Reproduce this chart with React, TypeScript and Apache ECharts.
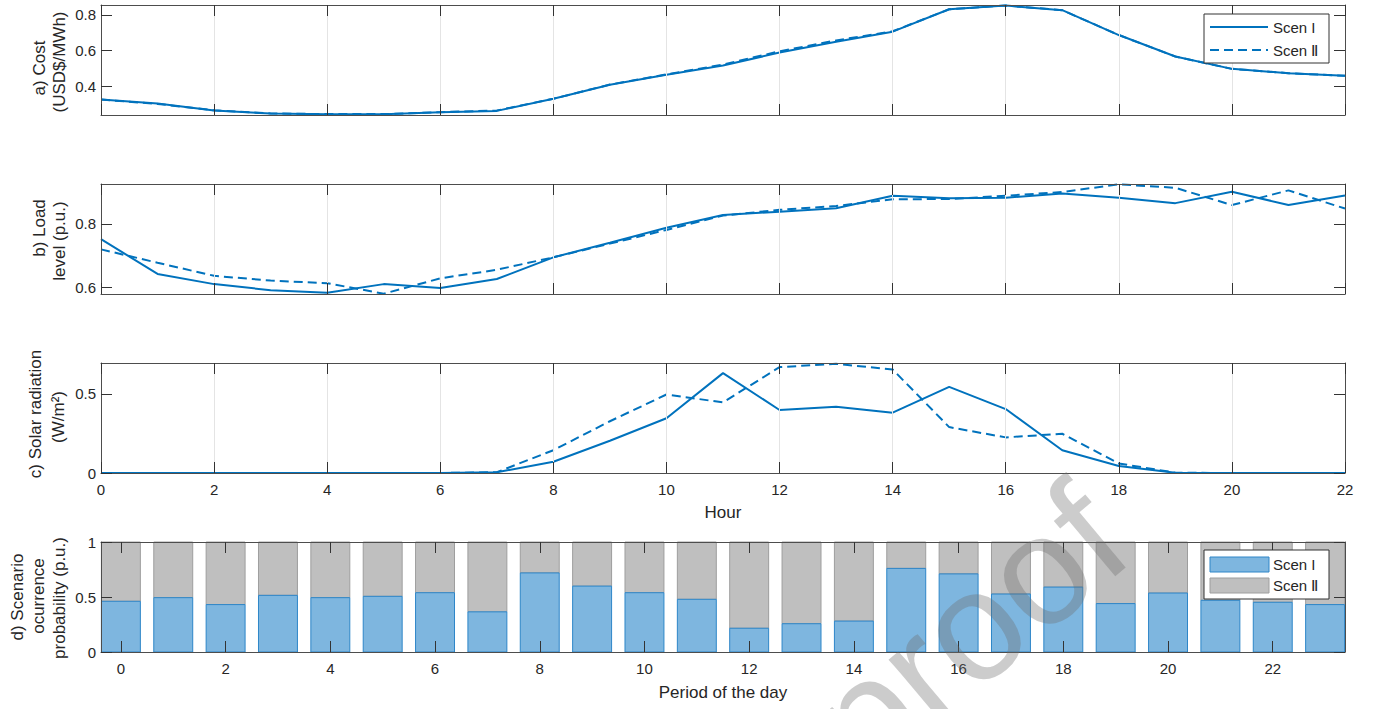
import React, { useEffect, useRef } from "react";
import * as echarts from "echarts";

// ---------- data ----------
const hours = [0, 1, 2, 3, 4, 5, 6, 7, 8, 9, 10, 11, 12, 13, 14, 15, 16, 17, 18, 19, 20, 21, 22];
const costScenI = [0.326, 0.304, 0.265, 0.248, 0.244, 0.244, 0.256, 0.263, 0.331, 0.409, 0.465, 0.517, 0.589, 0.65, 0.706, 0.831, 0.852, 0.826, 0.687, 0.567, 0.498, 0.474, 0.459];
const costScenII = [0.326, 0.302, 0.266, 0.249, 0.245, 0.245, 0.256, 0.265, 0.331, 0.41, 0.467, 0.522, 0.596, 0.657, 0.708, 0.831, 0.852, 0.826, 0.687, 0.567, 0.498, 0.474, 0.459];
const loadScenI = [0.752, 0.643, 0.611, 0.592, 0.584, 0.611, 0.599, 0.627, 0.695, 0.741, 0.788, 0.828, 0.838, 0.849, 0.888, 0.88, 0.882, 0.895, 0.882, 0.865, 0.901, 0.859, 0.889];
const loadScenII = [0.72, 0.678, 0.637, 0.622, 0.614, 0.581, 0.629, 0.656, 0.695, 0.738, 0.781, 0.826, 0.844, 0.856, 0.877, 0.878, 0.888, 0.9, 0.924, 0.913, 0.859, 0.905, 0.848];
const solarScenI = [0, 0, 0, 0, 0, 0, 0, 0.005, 0.071, 0.204, 0.346, 0.631, 0.398, 0.419, 0.381, 0.544, 0.404, 0.144, 0.044, 0.002, 0, 0, 0];
const solarScenII = [0, 0, 0, 0, 0, 0, 0, 0.005, 0.144, 0.327, 0.496, 0.446, 0.669, 0.69, 0.654, 0.29, 0.225, 0.248, 0.06, 0.002, 0, 0, 0];
const periods = [0, 1, 2, 3, 4, 5, 6, 7, 8, 9, 10, 11, 12, 13, 14, 15, 16, 17, 18, 19, 20, 21, 22, 23];
const probScenI = [0.461, 0.494, 0.431, 0.515, 0.494, 0.506, 0.539, 0.365, 0.719, 0.599, 0.539, 0.479, 0.216, 0.257, 0.281, 0.76, 0.71, 0.527, 0.59, 0.44, 0.536, 0.47, 0.452, 0.431];
const probScenII = [0.539, 0.506, 0.569, 0.485, 0.506, 0.494, 0.461, 0.635, 0.281, 0.401, 0.461, 0.521, 0.784, 0.743, 0.719, 0.24, 0.29, 0.473, 0.41, 0.56, 0.464, 0.53, 0.548, 0.569];

const hourTicks = [0, 2, 4, 6, 8, 10, 12, 14, 16, 18, 20, 22];
const costTicks = [0.4, 0.6, 0.8];
const loadTicks = [0.6, 0.8];
const solarTicks = [0, 0.5];
const probTicks = [0, 0.5, 1];

const seriesNames = ["Scen I", "Scen Ⅱ"];

// ---------- styles ----------
const FONT = "'Liberation Sans', Arial, Helvetica, sans-serif";
const TXT = "#262626";
const AX = "#4d4d4d";
const TK = "#333333";
const GRIDC = "#e4e4e4";
const BLUE = "#0072BD";
const BAR_BLUE = "#7EB6DF";
const BAR_BLUE_EDGE = "#2E86C8";
const BAR_GRAY = "#BFBFBF";
const BAR_GRAY_EDGE = "#9E9E9E";
const BAR_HALF = 0.372;

const GL = 101;
const GW = 1244;
const GH = 110;
const TOPS = [5, 184, 363, 542];

export default function App() {
  const ref = useRef<HTMLDivElement>(null);

  useEffect(() => {
    document.body.style.margin = "0";
    const chart = echarts.init(ref.current!, null, { renderer: "svg" });

    const grids = TOPS.map((t) => ({ left: GL, top: t, width: GW, height: GH, show: false }));

    const lineAxisBase = (gi: number, pos: "bottom" | "top", labels: boolean) => ({
      type: "value",
      gridIndex: gi,
      position: pos,
      min: 0,
      max: 22,
      interval: 2,
      z: 5,
      axisLine: { show: true, onZero: false, lineStyle: { color: AX, width: 1 } },
      axisTick: { show: true, inside: true, length: 11, lineStyle: { color: TK, width: 1 } },
      axisLabel: { show: labels, margin: 9, fontSize: 15, color: TXT, fontFamily: FONT },
      splitLine: { show: pos === "bottom", lineStyle: { color: GRIDC, width: 1 } },
    });

    const barAxis = (pos: "bottom" | "top", labels: boolean) => ({
      type: "value",
      gridIndex: 3,
      position: pos,
      min: -0.38,
      max: 23.38,
      z: 5,
      axisLine: { show: true, onZero: false, lineStyle: { color: AX, width: 1 } },
      axisTick: { show: true, inside: true, length: 11, customValues: hourTicks, lineStyle: { color: TK, width: 1 } },
      axisLabel: { show: labels, customValues: hourTicks, margin: 9, fontSize: 15, color: TXT, fontFamily: FONT },
      splitLine: { show: false },
    });

    const yAxisDef = (gi: number, pos: "left" | "right", min: number, max: number, ticks: number[]) => ({
      type: "value",
      gridIndex: gi,
      position: pos,
      min,
      max,
      z: 5,
      axisLine: { show: true, onZero: false, lineStyle: { color: AX, width: 1 } },
      axisTick: { show: true, inside: true, length: 11, customValues: ticks, lineStyle: { color: TK, width: 1 } },
      axisLabel: { show: pos === "left", customValues: ticks, margin: 5, fontSize: 15, color: TXT, fontFamily: FONT },
      splitLine: { show: false },
    });

    const xAxis = [
      lineAxisBase(0, "bottom", false),
      lineAxisBase(0, "top", false),
      lineAxisBase(1, "bottom", false),
      lineAxisBase(1, "top", false),
      lineAxisBase(2, "bottom", true),
      lineAxisBase(2, "top", false),
      barAxis("bottom", true),
      barAxis("top", false),
    ];

    const yAxis = [
      yAxisDef(0, "left", 0.24, 0.855, costTicks),
      yAxisDef(0, "right", 0.24, 0.855, costTicks),
      yAxisDef(1, "left", 0.58, 0.925, loadTicks),
      yAxisDef(1, "right", 0.58, 0.925, loadTicks),
      yAxisDef(2, "left", 0, 0.695, solarTicks),
      yAxisDef(2, "right", 0, 0.695, solarTicks),
      yAxisDef(3, "left", 0, 1, probTicks),
      yAxisDef(3, "right", 0, 1, probTicks),
    ];

    const pair = (xs: number[], ys: number[]) => xs.map((x, i) => [x, ys[i]]);

    const lineSeries = (gi: number, name: string, ys: number[], dashed: boolean) => ({
      type: "line",
      name,
      xAxisIndex: gi * 2,
      yAxisIndex: gi * 2,
      data: pair(hours, ys),
      symbol: "none",
      z: 3,
      lineStyle: { color: BLUE, width: 2, type: dashed ? [9, 5] : "solid" },
    });

    // stacked bars: [period, start, end]
    const scenIBars = periods.map((p, i) => [p, 0, probScenI[i]]);
    const scenIIBars = periods.map((p, i) => [p, probScenI[i], probScenI[i] + probScenII[i]]);

    const barSeries = (name: string, data: number[][], fill: string, stroke: string) => ({
      type: "custom",
      name,
      coordinateSystem: "cartesian2d",
      xAxisIndex: 6,
      yAxisIndex: 6,
      encode: { x: 0, y: [1, 2] },
      data,
      z: 2,
      renderItem: (_params: any, api: any) => {
        const x = api.value(0);
        const y0 = api.value(1);
        const y1 = api.value(2);
        const a = api.coord([x - BAR_HALF, y0]);
        const b = api.coord([x + BAR_HALF, y1]);
        return {
          type: "rect",
          shape: { x: a[0], y: b[1], width: b[0] - a[0], height: a[1] - b[1] },
          style: { fill, stroke, lineWidth: 1 },
        };
      },
    });

    const series: any[] = [
      lineSeries(0, seriesNames[1], costScenII, true),
      lineSeries(0, seriesNames[0], costScenI, false),
      lineSeries(1, seriesNames[1], loadScenII, true),
      lineSeries(1, seriesNames[0], loadScenI, false),
      lineSeries(2, seriesNames[1], solarScenII, true),
      lineSeries(2, seriesNames[0], solarScenI, false),
      barSeries(seriesNames[1], scenIIBars, BAR_GRAY, BAR_GRAY_EDGE),
      barSeries(seriesNames[0], scenIBars, BAR_BLUE, BAR_BLUE_EDGE),
    ];

    const vText = (text: string, x: number, y: number, size = 17) => ({
      type: "text",
      x,
      y,
      rotation: Math.PI / 2,
      silent: true,
      z: 50,
      style: {
        text,
        fontSize: size,
        fontFamily: FONT,
        fill: TXT,
        align: "center",
        verticalAlign: "middle",
        textAlign: "center",
        textVerticalAlign: "middle",
      },
    });

    const hText = (text: string, x: number, y: number, size = 17, align = "center") => ({
      type: "text",
      x,
      y,
      silent: true,
      z: 50,
      style: {
        text,
        fontSize: size,
        fontFamily: FONT,
        fill: TXT,
        align,
        verticalAlign: "middle",
        textAlign: align,
        textVerticalAlign: "middle",
      },
    });

    const legendBox = (y: number) => ({
      type: "rect",
      z: 60,
      silent: true,
      shape: { x: 1204, y, width: 125, height: 49 },
      style: { fill: "#ffffff", stroke: "#333333", lineWidth: 1 },
    });

    const graphic: any[] = [
      // y titles
      vText("a) Cost", 39, 68),
      vText("(USD$/MWh)", 59, 62),
      vText("b) Load", 39, 228),
      vText("level (p.u.)", 59, 241),
      vText("c) Solar radiation", 35, 414),
      vText("(W/m²)", 58, 417),
      vText("d) Scenario", 17, 597),
      vText("ocurrence", 38, 596),
      vText("probability (p.u.)", 59, 598),
      // x titles
      hText("Hour", 723, 512),
      hText("Period of the day", 723, 692),
      // legend a
      legendBox(14),
      { type: "line", z: 61, silent: true, shape: { x1: 1210, y1: 27, x2: 1268, y2: 27 }, style: { stroke: BLUE, lineWidth: 2 } },
      { type: "line", z: 61, silent: true, shape: { x1: 1210, y1: 50, x2: 1268, y2: 50 }, style: { stroke: BLUE, lineWidth: 2, lineDash: [9, 5] } },
      { ...hText(seriesNames[0], 1273, 27, 15, "left"), z: 62 },
      { ...hText(seriesNames[1], 1273, 50, 15, "left"), z: 62 },
      // legend d
      legendBox(550),
      { type: "rect", z: 61, silent: true, shape: { x: 1210, y: 557, width: 59, height: 15 }, style: { fill: BAR_BLUE, stroke: BAR_BLUE_EDGE, lineWidth: 1 } },
      { type: "rect", z: 61, silent: true, shape: { x: 1210, y: 578, width: 59, height: 15 }, style: { fill: BAR_GRAY, stroke: BAR_GRAY_EDGE, lineWidth: 1 } },
      { ...hText(seriesNames[0], 1273, 564.5, 15, "left"), z: 62 },
      { ...hText(seriesNames[1], 1273, 585.5, 15, "left"), z: 62 },
      // watermark
      {
        type: "text",
        x: 968,
        y: 630,
        rotation: (40 * Math.PI) / 180,
        silent: true,
        z: 100,
        style: {
          text: "proof",
          fontSize: 155,
          fontFamily: FONT,
          fill: "rgba(110,110,110,0.35)",
          align: "center",
          verticalAlign: "middle",
          textAlign: "center",
          textVerticalAlign: "middle",
        },
      },
    ];

    chart.setOption({
      animation: false,
      backgroundColor: "#ffffff",
      grid: grids,
      xAxis,
      yAxis,
      series,
      graphic,
    });

    return () => chart.dispose();
  }, []);

  return <div ref={ref} style={{ width: 1379, height: 709 }} />;
}
